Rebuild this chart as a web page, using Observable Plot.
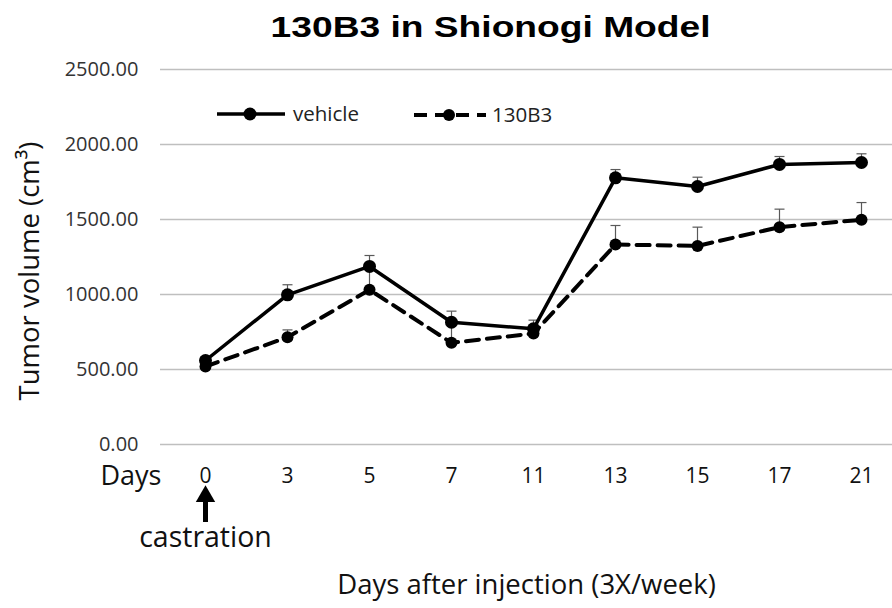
<!DOCTYPE html>
<html>
<head>
<meta charset="utf-8">
<script src="https://cdn.jsdelivr.net/npm/d3@7"></script>
<script src="https://cdn.jsdelivr.net/npm/@observablehq/plot@0.6"></script>
<style>
  body { margin: 0; background: #fff; }
  #wrap { position: relative; width: 892px; height: 608px; overflow: hidden; }
  #title { height: 56px; line-height: 54px; padding-left: 90px; text-align: center; white-space: nowrap;
           font-family: "Liberation Sans", Arial, sans-serif; font-weight: bold; font-size: 29.5px; color: #000; }
  #title span { display: inline-block; transform: scaleX(1.26); }
  #legend { position: absolute; left: 0; top: 0; }
</style>
</head>
<body>
<div id="wrap">
  <div id="title"><span>130B3 in Shionogi Model</span></div>
  <div id="chart"></div>
  <svg id="legend" width="892" height="150" font-family="Open Sans, sans-serif" font-size="20.5">
    <line x1="217" x2="285" y1="114" y2="114" stroke="#000" stroke-width="3.5"/>
    <circle cx="250" cy="114" r="6.5" fill="#000"/>
    <text x="293" y="114" dy="0.35em" fill="#222">vehicle</text>
    <line x1="414" x2="486" y1="115" y2="115" stroke="#000" stroke-width="4" stroke-dasharray="13,8"/>
    <circle cx="449" cy="115" r="6" fill="#000"/>
    <text x="492" y="115" dy="0.35em" fill="#222">130B3</text>
  </svg>
</div>
<script>
const days = ["0", "3", "5", "7", "11", "13", "15", "17", "21"];
const vehicle = [560, 998, 1187, 815, 771, 1778, 1720, 1867, 1880];
const vehicleErr = [25, 67, 73, 74, 58, 55, 62, 53, 58];
const b3 = [520, 715, 1031, 678, 740, 1333, 1324, 1449, 1498];
const b3Err = [15, 49, 140, 130, 20, 127, 125, 120, 115];
const yTicks = [0, 500, 1000, 1500, 2000, 2500];

const vRows = days.map((d, i) => ({day: d, v: vehicle[i], e: vehicleErr[i]}));
const bRows = days.map((d, i) => ({day: d, v: b3[i], e: b3Err[i]}));
const allRows = vRows.concat(bRows);

const cap = {draw(ctx) { ctx.moveTo(-5, 0); ctx.lineTo(5, 0); }};
const font = "Open Sans, sans-serif";

const chart = Plot.plot({
  width: 892,
  height: 552,
  marginTop: 13,
  marginBottom: 164,
  marginLeft: 160,
  marginRight: 0,
  style: {fontFamily: font, background: "#fff", overflow: "visible"},
  x: {type: "point", domain: days, range: [202, 864], padding: 0},
  y: {domain: [0, 2500]},
  marks: [
    Plot.ruleY(yTicks, {stroke: "#bfbfbf", strokeWidth: 1.6}),
    Plot.axisY(yTicks, {tickSize: 0, tickPadding: 22, tickFormat: d3.format(".2f"), fontSize: 20, fill: "#333", label: null}),
    Plot.axisX({tickSize: 0, tickPadding: 24, fontSize: 21, fill: "#111", label: null}),
    Plot.text(["Days"], {frameAnchor: "bottom-left", textAnchor: "end", lineAnchor: "middle", dx: 1, dy: 32, fontSize: 27, fill: "#111"}),
    Plot.text(["Tumor volume (cm³)"], {frameAnchor: "left", textAnchor: "middle", lineAnchor: "middle", rotate: -90, dx: -130, dy: 14, fontSize: 27.5, fill: "#111"}),
    Plot.text(["Days after injection (3X/week)"], {frameAnchor: "bottom", textAnchor: "middle", lineAnchor: "middle", dy: 141, fontSize: 27.5, fill: "#111"}),
    Plot.ruleX(["0"], {x: d => d, y1: -375, y2: -520, stroke: "#000", strokeWidth: 5}),
    Plot.dot(["0"], {x: d => d, frameAnchor: "bottom", dy: 52, symbol: "triangle", r: 7.2, fill: "#000"}),
    Plot.text(["castration"], {x: d => "0", frameAnchor: "bottom", textAnchor: "middle", lineAnchor: "middle", dy: 93, fontSize: 28.5, fill: "#111"}),
    Plot.link(allRows, {x1: "day", x2: "day", y1: "v", y2: d => d.v + d.e, stroke: "#595959", strokeWidth: 1.2}),
    Plot.dot(allRows, {x: "day", y: d => d.v + d.e, symbol: cap, stroke: "#595959", strokeWidth: 1.2}),
    Plot.line(bRows, {x: "day", y: "v", stroke: "#000", strokeWidth: 4, strokeDasharray: "13,8"}),
    Plot.dot(bRows, {x: "day", y: "v", r: 6, fill: "#000"}),
    Plot.line(vRows, {x: "day", y: "v", stroke: "#000", strokeWidth: 3.5}),
    Plot.dot(vRows, {x: "day", y: "v", r: 6.5, fill: "#000"})
  ]
});
document.getElementById("chart").appendChild(chart);
</script>
</body>
</html>
